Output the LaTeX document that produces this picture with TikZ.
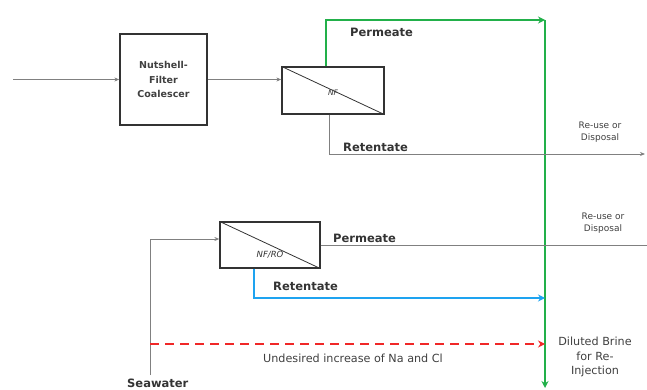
\documentclass[tikz,border=0pt]{standalone}
\usepackage{fontspec}
\setmainfont{DejaVu Sans}
\usetikzlibrary{arrows.meta}
\definecolor{pgreen}{HTML}{22B04A}
\definecolor{pblue}{HTML}{1EA3F0}
\definecolor{pred}{HTML}{F02828}
\definecolor{pgray}{HTML}{808080}
\begin{document}
\begin{tikzpicture}[x=1pt,y=-1pt,
  unitbox/.style={draw=black!80,line width=1.3pt,inner sep=0pt},
  grayline/.style={draw=pgray,line width=0.9pt},
  greenline/.style={draw=pgreen,line width=2.4pt},
  blueline/.style={draw=pblue,line width=2pt},
  redline/.style={draw=pred,line width=2pt,dash pattern=on 9pt off 6pt},
  tip/.style={-{Stealth[length=5pt,width=4pt]}},
  bigtip/.style={-{Stealth[length=7pt,width=7pt]}},
  lbl/.style={font=\fontsize{11.5}{13}\selectfont\bfseries,text=black!80,inner sep=0pt,anchor=west},
  small/.style={font=\fontsize{9}{12}\selectfont,text=black!75,align=center,inner sep=0pt},
  mid/.style={font=\fontsize{11.2}{14.5}\selectfont,text=black!75,align=center,inner sep=0pt}]
\useasboundingbox (0,0) rectangle (647,390);
% boxes
\node[unitbox,minimum width=87pt,minimum height=91pt,font=\fontsize{9.5}{14.5}\selectfont\bfseries,align=center,text=black!75] (nut) at (163.5,79.5) {Nutshell-\\Filter\\Coalescer};
\node[unitbox,minimum width=102pt,minimum height=47pt] (nf) at (333,90.5) {};
\draw[black!80,line width=0.8pt] (nf.north west) -- (nf.south east);
\node[font=\fontsize{7.5}{9}\selectfont\itshape,text=black!80] (nflbl) at (333,93) {NF};
\node[unitbox,minimum width=100pt,minimum height=46pt] (ro) at (270,245) {};
\draw[black!80,line width=0.8pt] (ro.north west) -- (ro.south east);
\node[font=\fontsize{8.5}{10}\selectfont\itshape,text=black!80] (rolbl) at (270,255) {NF/RO};
% coordinates
\coordinate (in) at (13,79.5);
\coordinate (gtop) at (326,20);
\coordinate (gcorner) at (545,20);
\coordinate (gbot) at (545,388);
\coordinate (rtcorner) at (329,154);
\coordinate (rtend) at (645,154);
\coordinate (swstart) at (150,375);
\coordinate (swcorner) at (150,239);
\coordinate (pout) at (647,245);
\coordinate (bcorner) at (254,298);
\coordinate (bend) at (545,298);
\coordinate (rstart) at (150,344);
\coordinate (rend) at (545,344);
% top line
\draw[grayline,tip] (in) -- (nut.west);
\draw[grayline,tip] (nut.east) -- (nut.east -| nf.west);
\draw[greenline,bigtip] (nf.north -| gtop) -- (gtop) -- (gcorner);
\draw[greenline,bigtip] (gcorner) -- (gbot);
\draw[grayline,tip] (nf.south -| rtcorner) -- (rtcorner) -- (rtend);
% lower
\draw[grayline,tip] (swstart) -- (swcorner) -- (swcorner -| ro.west);
\draw[grayline] (ro.east |- pout) -- (pout);
\draw[blueline,bigtip] (ro.south -| bcorner) -- (bcorner) -- (bend);
\draw[redline,bigtip] (rstart) -- (rend);
% labels
\node[lbl] (perm1) at (350,32) {Permeate};
\node[lbl] (ret1) at (343,147) {Retentate};
\node[small] (reuse1) at (600,132) {Re-use or\\Disposal};
\node[lbl] (perm2) at (333,238) {Permeate};
\node[small] (reuse2) at (603,223) {Re-use or\\Disposal};
\node[lbl] (ret2) at (273,286) {Retentate};
\node[mid] (undes) at (353,358) {Undesired increase of Na and Cl};
\node[mid] (brine) at (595,357) {Diluted Brine\\for Re-\\Injection};
\node[lbl] (sea) at (127,383) {Seawater};
\end{tikzpicture}
\end{document}
